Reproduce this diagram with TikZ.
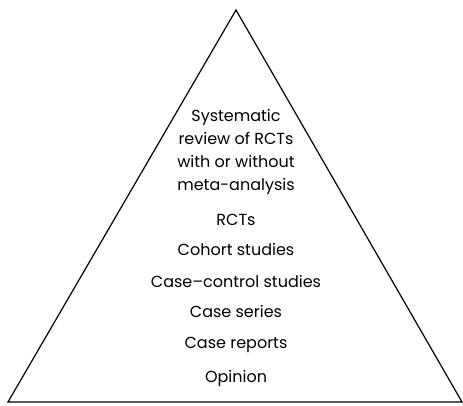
\documentclass[tikz,border=0pt]{standalone}
\usepackage{fontspec}
\setmainfont{Poppins}
\usetikzlibrary{positioning}

\tikzset{level/.style={font=\fontsize{16}{23}\selectfont, align=center, inner sep=0pt, anchor=base}}

\begin{document}
\begin{tikzpicture}[x=1pt,y=1pt]

	\useasboundingbox (0,0) rectangle (463,405);
	\draw [line width=1.2pt, line join=miter] (236,395) -- (462,3) -- (8,3) -- cycle;

	\node [level, anchor=center] (srev) at (236,253.5) {Systematic\\review of RCTs\\with or without\\meta-analysis};
	\node [level] (rct) at (236,180) {RCTs};
	\node [level] (cohort) at (236,150) {Cohort studies};
	\node [level] (cc) at (236,118) {Case--control studies};
	\node [level] (series) at (236,88) {Case series};
	\node [level] (reports) at (236,57) {Case reports};
	\node [level] (opinion) at (236,23) {Opinion};

\end{tikzpicture}
\end{document}
